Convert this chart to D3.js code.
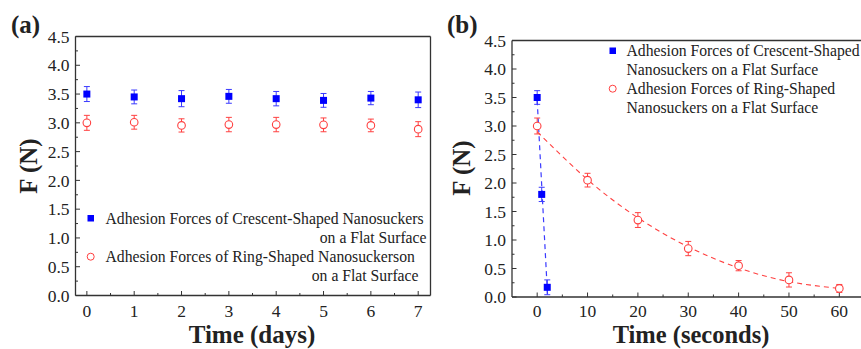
<!DOCTYPE html>
<html>
<head>
<meta charset="utf-8">
<script src="https://cdn.jsdelivr.net/npm/d3@7"></script>
<style>
  body { margin: 0; background: #fff; }
  svg { display: block; }
  text { font-family: "Liberation Serif", "Times New Roman", serif; fill: #222; }
</style>
</head>
<body>
<svg id="chart" width="861" height="349"></svg>
<script>
// ---------- data ----------
const dayTicks = [0, 1, 2, 3, 4, 5, 6, 7];
const yTicks = [0, 0.5, 1, 1.5, 2, 2.5, 3, 3.5, 4, 4.5];
const days = [0, 1, 2, 3, 4, 5, 6, 7];
const crescentDays = [3.50, 3.45, 3.42, 3.46, 3.42, 3.39, 3.43, 3.40];
const crescentDaysErr = [0.13, 0.12, 0.14, 0.12, 0.125, 0.12, 0.115, 0.135];
const ringDays = [3.00, 3.01, 2.955, 2.97, 2.97, 2.965, 2.955, 2.89];
const ringDaysErr = [0.13, 0.12, 0.115, 0.125, 0.125, 0.12, 0.11, 0.13];

const secTicks = [0, 10, 20, 30, 40, 50, 60];
const crescentSecT = [0, 0.9, 2];
const crescentSec = [3.50, 1.80, 0.17];
const crescentSecErr = [0.12, 0.125, 0.13];
const crescentFitT = [0, 2.05];
const crescentFitF = [3.45, 0.05];
const ringSecT = [0, 10, 20, 30, 40, 50, 60];
const ringSec = [3.00, 2.05, 1.35, 0.85, 0.55, 0.30, 0.15];
const ringSecErr = [0.14, 0.12, 0.13, 0.125, 0.09, 0.125, 0.07];
const ringFitT = [0, 10, 20, 30, 40, 50, 60];
const ringFitF = [2.90, 2.06, 1.39, 0.88, 0.51, 0.27, 0.15];

const legendA = [
  ["Adhesion Forces of Crescent-Shaped Nanosuckers", "on a Flat Surface"],
  ["Adhesion Forces of Ring-Shaped Nanosuckerson", "on a Flat Surface"]
];
const legendB = [
  ["Adhesion Forces of Crescent-Shaped", "Nanosuckers on a Flat Surface"],
  ["Adhesion Forces of Ring-Shaped", "Nanosuckers on a Flat Surface"]
];

// ---------- styling ----------
const BLUE = "#0000ff", BLUE_ERR = "#3a3aff", RED = "#ff4040", AX = "#333";
const svg = d3.select("#chart");

function drawAxes(g, x, y, xTicks, xMinor, yMinor, box, xTitle, titleX, titleY, tickDy, titleSize) {
  const [x0, x1] = x.range();
  const [y0, y1] = y.range(); // y0 bottom, y1 top
  g.append("line").attr("x1", x0).attr("x2", x0).attr("y1", y0).attr("y2", y1).attr("stroke", AX).attr("stroke-width", 1.3);
  g.append("line").attr("x1", x0).attr("x2", x1).attr("y1", y0).attr("y2", y0).attr("stroke", AX).attr("stroke-width", 1.3);
  g.append("line").attr("x1", x0).attr("x2", x1).attr("y1", y1).attr("y2", y1).attr("stroke", AX).attr("stroke-width", 1.3);
  if (box) g.append("line").attr("x1", x1).attr("x2", x1).attr("y1", y0).attr("y2", y1).attr("stroke", AX).attr("stroke-width", 1.3);

  yTicks.forEach(v => {
    g.append("line").attr("x1", x0).attr("x2", x0 + 4.5).attr("y1", y(v)).attr("y2", y(v)).attr("stroke", AX);
    g.append("text").attr("x", x0 - 6).attr("y", y(v)).attr("dy", "0.35em")
      .attr("text-anchor", "end").attr("font-size", 17.5).text(d3.format(".1f")(v));
  });
  yMinor.forEach(v => {
    g.append("line").attr("x1", x0).attr("x2", x0 + 2.5).attr("y1", y(v)).attr("y2", y(v)).attr("stroke", AX);
  });
  xTicks.forEach(v => {
    g.append("line").attr("x1", x(v)).attr("x2", x(v)).attr("y1", y0).attr("y2", y0 - 4.5).attr("stroke", AX);
    g.append("text").attr("x", x(v)).attr("y", y0 + tickDy).attr("text-anchor", "middle")
      .attr("font-size", 17.5).text(v);
  });
  xMinor.forEach(v => {
    g.append("line").attr("x1", x(v)).attr("x2", x(v)).attr("y1", y0).attr("y2", y0 - 2.5).attr("stroke", AX);
  });
  g.append("text").attr("x", titleX).attr("y", titleY)
    .attr("text-anchor", "middle").attr("font-size", titleSize).attr("font-weight", "bold").text(xTitle);
}

function errBars(g, xs, ys, es, x, y, color) {
  xs.forEach((t, i) => {
    const cx = x(t), top = y(ys[i] + es[i]), bot = y(ys[i] - es[i]);
    g.append("line").attr("x1", cx).attr("x2", cx).attr("y1", top).attr("y2", bot).attr("stroke", color).attr("stroke-width", 1);
    g.append("line").attr("x1", cx - 3).attr("x2", cx + 3).attr("y1", top).attr("y2", top).attr("stroke", color).attr("stroke-width", 1);
    g.append("line").attr("x1", cx - 3).attr("x2", cx + 3).attr("y1", bot).attr("y2", bot).attr("stroke", color).attr("stroke-width", 1);
  });
}
function squares(g, xs, ys, x, y) {
  xs.forEach((t, i) => {
    g.append("rect").attr("x", x(t) - 3.5).attr("y", y(ys[i]) - 3.5).attr("width", 7).attr("height", 7).attr("fill", BLUE);
  });
}
function circles(g, xs, ys, x, y) {
  xs.forEach((t, i) => {
    g.append("circle").attr("cx", x(t)).attr("cy", y(ys[i])).attr("r", 3.8)
      .attr("fill", "#fff").attr("stroke", RED).attr("stroke-width", 1.1);
  });
}

// ---------- panel (a) ----------
{
  const g = svg.append("g");
  const x = d3.scaleLinear().domain([-0.24, 7.26]).range([75.5, 430.5]);
  const y = d3.scaleLinear().domain([0, 4.5]).range([295.5, 36.5]);
  const xMinor = d3.range(0.5, 7, 1);
  const yMinor = d3.range(0.25, 4.5, 0.5);
  drawAxes(g, x, y, dayTicks, xMinor, yMinor, true, "Time (days)", 252, 343, 21, 25);

  errBars(g, days, crescentDays, crescentDaysErr, x, y, BLUE_ERR);
  squares(g, days, crescentDays, x, y);
  errBars(g, days, ringDays, ringDaysErr, x, y, RED);
  circles(g, days, ringDays, x, y);

  g.append("rect").attr("x", 87.5).attr("y", 215).attr("width", 6.5).attr("height", 6.5).attr("fill", BLUE);
  g.append("circle").attr("cx", 90.7).attr("cy", 256.7).attr("r", 3.5).attr("fill", "#fff").attr("stroke", RED).attr("stroke-width", 1);
  const rows = [[218.3, 237.3, 426.5], [256.7, 275.3, 418.5]];
  legendA.forEach((lines, i) => {
    g.append("text").attr("x", 105.5).attr("y", rows[i][0]).attr("dy", "0.35em").attr("font-size", 15.7).text(lines[0]);
    g.append("text").attr("x", rows[i][2]).attr("y", rows[i][1]).attr("dy", "0.35em").attr("font-size", 15.7)
      .attr("text-anchor", "end").text(lines[1]);
  });

  g.append("text").attr("transform", "translate(37,166) rotate(-90)").attr("text-anchor", "middle")
    .attr("font-size", 25).attr("font-weight", "bold").text("F (N)");
  g.append("text").attr("x", 11).attr("y", 33).attr("font-size", 25).attr("font-weight", "bold").text("(a)");
}

// ---------- panel (b) ----------
{
  const g = svg.append("g");
  const x = d3.scaleLinear().domain([-5, 65]).range([512, 864.5]);
  const y = d3.scaleLinear().domain([0, 4.5]).range([297, 40.5]);
  const xMinor = d3.range(5, 65, 10);
  const yMinor = d3.range(0.25, 4.5, 0.5);
  drawAxes(g, x, y, secTicks, xMinor, yMinor, true, "Time (seconds)", 691, 343, 20, 24.5);

  const line = d3.line().x(d => x(d[0])).y(d => y(d[1]));
  g.append("path").datum(crescentFitT.map((t, i) => [t, crescentFitF[i]]))
    .attr("d", line).attr("fill", "none").attr("stroke", BLUE_ERR).attr("stroke-width", 1.2).attr("stroke-dasharray", "5,4");
  g.append("path").datum(ringFitT.map((t, i) => [t, ringFitF[i]]))
    .attr("d", line.curve(d3.curveNatural)).attr("fill", "none").attr("stroke", RED).attr("stroke-width", 1.1).attr("stroke-dasharray", "5,4");

  errBars(g, crescentSecT, crescentSec, crescentSecErr, x, y, BLUE_ERR);
  squares(g, crescentSecT, crescentSec, x, y);
  errBars(g, ringSecT, ringSec, ringSecErr, x, y, RED);
  circles(g, ringSecT, ringSec, x, y);

  g.append("rect").attr("x", 609.5).attr("y", 47.5).attr("width", 6.5).attr("height", 6.5).attr("fill", BLUE);
  g.append("circle").attr("cx", 612.7).attr("cy", 88.7).attr("r", 3.5).attr("fill", "#fff").attr("stroke", RED).attr("stroke-width", 1);
  const rows = [[50.7, 69.3], [88.7, 107.3]];
  legendB.forEach((lines, i) => {
    g.append("text").attr("x", 626.5).attr("y", rows[i][0]).attr("dy", "0.35em").attr("font-size", 15.7).text(lines[0]);
    g.append("text").attr("x", 626.5).attr("y", rows[i][1]).attr("dy", "0.35em").attr("font-size", 15.7).text(lines[1]);
  });

  g.append("text").attr("transform", "translate(470,168) rotate(-90)").attr("text-anchor", "middle")
    .attr("font-size", 25).attr("font-weight", "bold").text("F (N)");
  g.append("text").attr("x", 447).attr("y", 33).attr("font-size", 25).attr("font-weight", "bold").text("(b)");
}
</script>
</body>
</html>
